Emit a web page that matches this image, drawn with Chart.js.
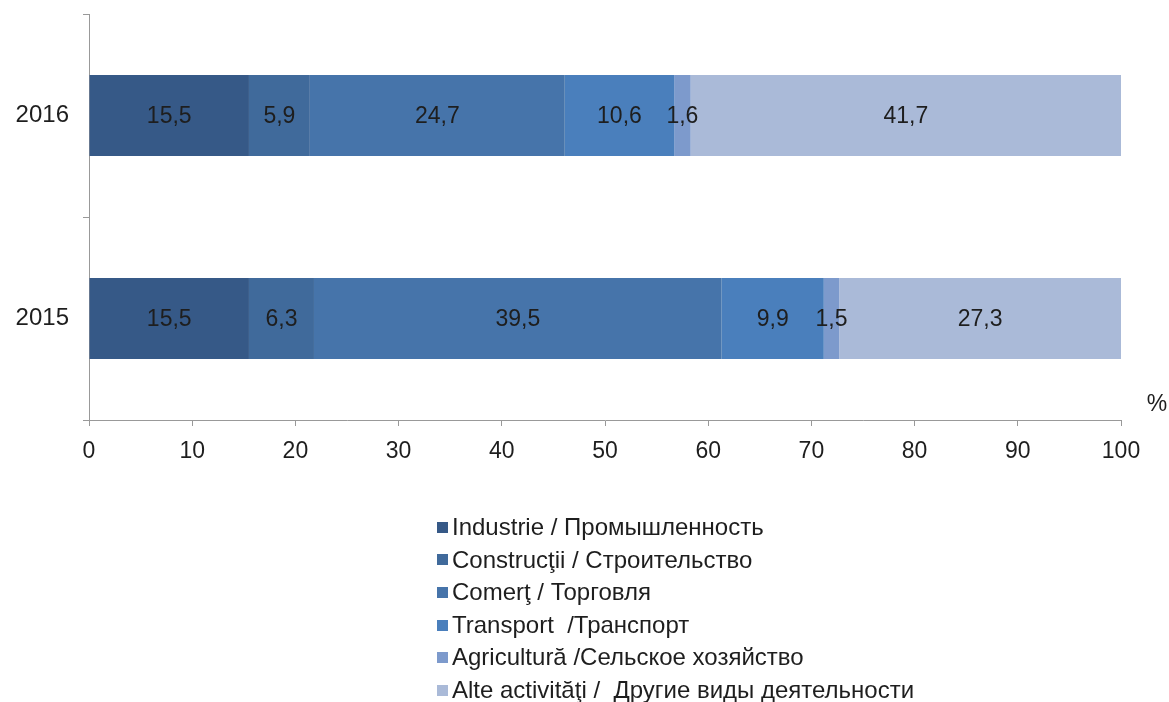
<!DOCTYPE html>
<html><head><meta charset="utf-8">
<script src="https://cdn.jsdelivr.net/npm/chart.js@4/dist/chart.umd.min.js"></script>
<style>
html,body{margin:0;padding:0;background:#fff;}
#wrap{position:relative;width:1169px;height:702px;}
#legend{position:absolute;left:437px;top:511px;font-family:"Liberation Sans",Arial,sans-serif;font-size:24px;color:#1e1e1e;}
#legend div{height:32.6px;line-height:32.6px;white-space:pre;display:flex;align-items:center;}
#legend span.box{display:inline-block;width:11px;height:11px;margin-right:4px;}
</style></head>
<body><div id="wrap"><canvas id="c" width="1169" height="702"></canvas><div id="legend"></div></div>
<script>
const categories = ["2016", "2015"];
const seriesNames = [
  "Industrie / Промышленность",
  "Construcţii / Строительство",
  "Comerţ / Торговля",
  "Transport  /Транспорт",
  "Agricultură /Сельское хозяйство",
  "Alte activităţi /  Другие виды деятельности"
];
const industrie = [15.5, 15.5];
const constructii = [5.9, 6.3];
const comert = [24.7, 39.5];
const transport = [10.6, 9.9];
const agricultura = [1.6, 1.5];
const alte = [41.7, 27.3];
const xTicks = [0,10,20,30,40,50,60,70,80,90,100];
const colors = ["#365987","#406a9b","#4674aa","#4a7fbc","#7d9acc","#aabad8"];
const seriesValues = [industrie, constructii, comert, transport, agricultura, alte];
const FONT = '"Liberation Sans", Arial, sans-serif';

const datasets = seriesNames.map((n,i)=>({label:n,data:seriesValues[i],backgroundColor:colors[i],borderWidth:0,barPercentage:0.4,categoryPercentage:1}));

const labelPlugin = {
  id:'labels',
  afterDatasetsDraw(chart){
    const ctx = chart.ctx;
    ctx.save();
    ctx.font = '23px ' + FONT;
    ctx.fillStyle = '#1e1e1e';
    ctx.textAlign='center';ctx.textBaseline='middle';
    chart.data.datasets.forEach((ds,di)=>{
      chart.getDatasetMeta(di).data.forEach((bar,j)=>{
        const v = ds.data[j];
        const cx = (bar.x + bar.base)/2;
        ctx.fillText(String(v).replace('.',','), cx, bar.y+1);
      });
    });
    const xs = chart.scales.x;
    ctx.fillText('%', xs.right+36, xs.top-15);
    ctx.restore();
  }
};

new Chart(document.getElementById('c'),{
  type:'bar',
  data:{labels:categories,datasets},
  options:{
    indexAxis:'y',responsive:false,animation:false,
    layout:{padding:{top:14,right:48,left:0,bottom:0}},
    plugins:{legend:{display:false},tooltip:{enabled:false}},
    scales:{
      x:{stacked:true,min:0,max:100,
        afterBuildTicks(s){s.ticks = xTicks.map(v=>({value:v}));},
        afterFit(s){s.height=282;},
        grid:{drawOnChartArea:false,drawTicks:true,tickLength:6,color:'#999',lineWidth:1},
        border:{color:'#999',width:1},
        ticks:{padding:12,color:'#1e1e1e',font:{size:23,family:FONT},maxRotation:0}
      },
      y:{stacked:true,offset:true,
        afterFit(s){s.width=89;s.paddingTop=0;s.paddingBottom=0;},
        grid:{offset:true,drawOnChartArea:false,drawTicks:true,tickLength:6,color:'#999'},
        border:{color:'#999',width:1},
        ticks:{padding:14,color:'#1e1e1e',font:{size:24,family:FONT}}
      }
    }
  },
  plugins:[labelPlugin]
});

const lg = document.getElementById('legend');
seriesNames.forEach((n,i)=>{
  const d=document.createElement('div');
  const b=document.createElement('span');b.className='box';b.style.background=colors[i];
  d.appendChild(b);d.appendChild(document.createTextNode(n));lg.appendChild(d);
});
</script></body></html>
